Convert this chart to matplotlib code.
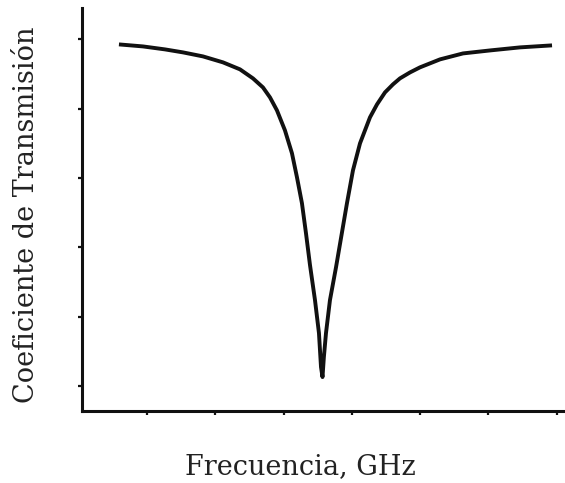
import matplotlib
matplotlib.use('Agg')
import matplotlib.pyplot as plt

# Transmission curve (arbitrary units, no tick labels shown)
freq = [0.590, 0.941, 1.264, 1.527, 1.820, 2.113, 2.362, 2.552, 2.698, 2.801,
        2.903, 3.020, 3.123, 3.196, 3.269, 3.328, 3.387, 3.460, 3.518, 3.548,
        3.570, 3.590, 3.621, 3.679, 3.768, 3.848, 3.928, 4.016, 4.119, 4.265,
        4.368, 4.485, 4.602, 4.704, 4.851, 4.997, 5.290, 5.627, 6.022, 6.461,
        6.930]
trans = [4.928, 4.899, 4.856, 4.813, 4.755, 4.669, 4.568, 4.438, 4.308, 4.164,
         3.977, 3.689, 3.357, 3.012, 2.637, 2.205, 1.744, 1.239, 0.764, 0.274,
         0.130, 0.418, 0.764, 1.239, 1.715, 2.176, 2.637, 3.112, 3.501, 3.876,
         4.063, 4.236, 4.352, 4.438, 4.524, 4.597, 4.712, 4.798, 4.841, 4.885,
         4.914]
x_ticks = [1, 2, 3, 4, 5, 6, 7]
y_ticks = [0, 1, 2, 3, 4, 5]

fig = plt.figure(figsize=(5.65, 4.83), dpi=100)
ax = fig.add_axes([0.145, 0.149, 0.855, 0.834])

ax.plot(freq, trans, color='#111111', linewidth=2.8, solid_joinstyle='round',
        solid_capstyle='butt')

ax.set_xlim(0.048, 7.12)
ax.set_ylim(-0.36, 5.45)
ax.set_xticks(x_ticks)
ax.set_yticks(y_ticks)
ax.set_xticklabels([])
ax.set_yticklabels([])
ax.tick_params(direction='out', length=3, width=1.6, color='#111111')

for side in ['top', 'right']:
    ax.spines[side].set_visible(False)
for side in ['left', 'bottom']:
    ax.spines[side].set_linewidth(2.2)
    ax.spines[side].set_color('#111111')

fig.text(300 / 565, 1 - 467 / 483, 'Frecuencia, GHz', family='DejaVu Serif',
         fontsize=19.5, color='#222222', ha='center', va='center')
fig.text(27 / 565, 1 - 215 / 483, 'Coeficiente de Transmisión',
         family='DejaVu Serif', fontsize=19.5, color='#222222',
         ha='center', va='center', rotation=90)

fig.savefig('out.png', dpi=100)
